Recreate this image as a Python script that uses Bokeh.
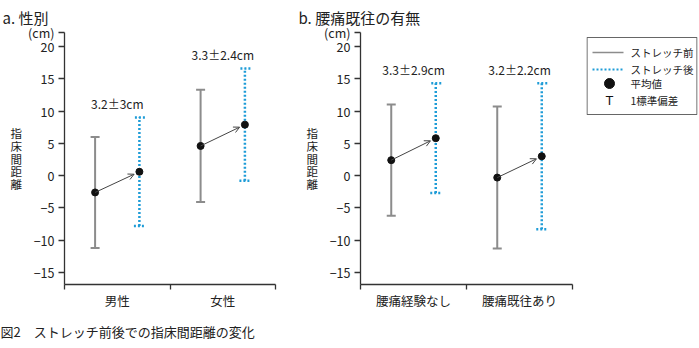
from bokeh.plotting import figure
from bokeh.models import (Range1d, FixedTicker, Whisker, TeeHead, Arrow, OpenHead, Title,
                          ColumnDataSource)
from bokeh.transform import dodge
from bokeh.layouts import row
from bokeh.core.properties import value
from bokeh.embed import file_html
from bokeh.resources import INLINE

FONT = "Noto Sans CJK JP"

# ---------------- data ----------------
cats_a = ["男性", "女性"]
before_mean_a = [-2.6, 4.6]
before_sd_a = [8.6, 8.7]
after_mean_a = [0.6, 7.9]
after_sd_a = [8.4, 8.7]
change_a = ["3.2±3cm", "3.3±2.4cm"]

cats_b = ["腰痛経験なし", "腰痛既往あり"]
before_mean_b = [2.4, -0.3]
before_sd_b = [8.6, 11.0]
after_mean_b = [5.8, 3.0]
after_sd_b = [8.5, 11.3]
change_b = ["3.3±2.9cm", "3.2±2.2cm"]

y_ticks = [-15, -10, -5, 0, 5, 10, 15, 20]
y_tick_labels = ["−15", "−10", "−5", "0", "5", "10", "15", "20"]
legend_labels = ["ストレッチ前", "ストレッチ後", "平均値", "1標準偏差"]
title_a = "a. 性別"
title_b = "b. 腰痛既往の有無"
y_label = "指床間距離"
unit_label = "(cm)"
caption = "図2　ストレッチ前後での指床間距離の変化"

# ---------------- style ----------------
GRAY = "#8c8c8c"
BLUE = "#1e9cd7"
AXIS = "#333333"
TXT = "#222222"
Y0, Y1 = -16.86, 22.17
FT, FH = 32, 252
FB = 348 - FT - FH
OFF = 0.21


def make_panel(cats, bm, bs, am, asd, chg, title, width, left, right, caption_on):
    n = len(cats)
    frac = (OFF - 0.05 + OFF) / (2 * OFF)
    centres = [i + 0.5 for i in range(n)]
    src = ColumnDataSource(dict(
        xc=centres, bm=bm, blo=[m - s for m, s in zip(bm, bs)], bhi=[m + s for m, s in zip(bm, bs)],
        am=am, alo=[m - s for m, s in zip(am, asd)], ahi=[m + s for m, s in zip(am, asd)],
        ae=[b + (a - b) * frac for b, a in zip(bm, am)],
        chg=chg, ly=[m + s + 2.1 for m, s in zip(am, asd)],
    ))
    p = figure(x_range=Range1d(0, n), y_range=Range1d(Y0, Y1),
               width=width, height=348, output_backend="svg", toolbar_location=None,
               min_border_left=left, min_border_right=right,
               min_border_top=FT, min_border_bottom=FB)
    p.outline_line_color = None
    p.grid.visible = False
    p.background_fill_color = "white"
    p.border_fill_color = "white"

    # panel title
    p.title.text = title[1]
    p.title.align = "left"
    p.title.offset = title[0] - left
    p.title.standoff = 9
    p.title.text_font = FONT
    p.title.text_font_size = "15px"
    p.title.text_font_style = "normal"
    p.title.text_color = TXT

    # y axis (the unit label sits at the top end of the axis)
    ya = p.yaxis[0]
    top = p.y_range.end
    ya.ticker = FixedTicker(ticks=y_ticks + [top])
    overrides = {t: l for t, l in zip(y_ticks, y_tick_labels)}
    overrides[top] = unit_label
    ya.major_label_overrides = overrides
    ya.major_tick_in = 0
    ya.major_tick_out = 6
    ya.minor_tick_line_color = None
    ya.axis_line_color = AXIS
    ya.axis_line_width = 1.3
    ya.major_tick_line_color = AXIS
    ya.major_tick_line_width = 1.3
    ya.major_label_text_font = FONT
    ya.major_label_text_font_size = "12.5px"
    ya.major_label_text_color = TXT
    ya.major_label_standoff = 4
    ya.axis_label = "\n".join(y_label)
    ya.axis_label_orientation = "horizontal"
    ya.axis_label_standoff = 3
    ya.axis_label_text_font = FONT
    ya.axis_label_text_font_size = "11.5px"
    ya.axis_label_text_font_style = "normal"
    ya.axis_label_text_color = TXT
    ya.axis_label_text_line_height = 0.8

    # x axis: ticks at category boundaries, category labels at centres
    xa = p.xaxis[0]
    xa.ticker = FixedTicker(ticks=centres, minor_ticks=list(range(n + 1)))
    xa.major_label_overrides = {c: lab for c, lab in zip(centres, cats)}
    xa.major_tick_line_color = None
    xa.major_tick_out = 0
    xa.major_tick_in = 0
    xa.minor_tick_in = 0
    xa.minor_tick_out = 5
    xa.minor_tick_line_color = AXIS
    xa.minor_tick_line_width = 1.3
    xa.axis_line_color = AXIS
    xa.axis_line_width = 1.3
    xa.major_label_standoff = 1
    xa.major_label_text_font = FONT
    xa.major_label_text_font_size = "12.5px"
    xa.major_label_text_color = TXT

    if caption_on:
        p.add_layout(Title(text=caption, align="left", offset=-left, standoff=15,
                           text_font=FONT, text_font_size="13px", text_font_style="normal",
                           text_color=TXT), "below")

    xb = dodge("xc", -OFF)
    xaft = dodge("xc", OFF)

    # before (solid gray)
    p.add_layout(Whisker(base=xb, lower="blo", upper="bhi", source=src, dimension="height",
                         line_color=GRAY, line_width=2,
                         upper_head=TeeHead(size=9, line_color=GRAY, line_width=2),
                         lower_head=TeeHead(size=9, line_color=GRAY, line_width=2)))
    # after (dotted blue)
    p.add_layout(Whisker(base=xaft, lower="alo", upper="ahi", source=src, dimension="height",
                         line_color=BLUE, line_width=2.5, line_dash="2 2",
                         upper_head=TeeHead(size=11, line_color=BLUE, line_width=2.5, line_dash="2 2"),
                         lower_head=TeeHead(size=11, line_color=BLUE, line_width=2.5, line_dash="2 2")))
    # arrow
    p.add_layout(Arrow(x_start=xb, y_start="bm", x_end=dodge("xc", OFF - 0.05),
                       y_end="ae", source=src, line_color="#444444", line_width=1,
                       end=OpenHead(size=6, line_color="#444444", line_width=1)))
    # means
    p.scatter(x=xb, y="bm", source=src, size=7, color="#111111")
    p.scatter(x=xaft, y="am", source=src, size=7, color="#111111")
    # change labels
    p.text(x="xc", y="ly", text="chg", source=src, text_align="center", text_baseline="middle",
           text_font=value(FONT), text_font_size="12px", text_color=TXT)
    return p


fig_a = make_panel(cats_a, before_mean_a, before_sd_a, after_mean_a, after_sd_a, change_a,
                   (2, title_a), 290, 64, 15, True)
fig_b = make_panel(cats_b, before_mean_b, before_sd_b, after_mean_b, after_sd_b, change_b,
                   (8, title_b), 295, 70, 13, False)

# ---------------- legend panel (pixel-like coordinates, y downward) ----------------
fig_l = figure(x_range=Range1d(0, 111), y_range=Range1d(FH, 0), width=114, height=348,
               output_backend="svg", toolbar_location=None,
               x_axis_location=None, y_axis_location=None,
               min_border_left=1, min_border_right=2, min_border_top=FT, min_border_bottom=FB)
fig_l.grid.visible = False
fig_l.outline_line_color = None
fig_l.quad(left=[0.5], right=[110.5], top=[5], bottom=[82], fill_color=None,
           line_color="#666666", line_width=1.2)
ys = [20, 37, 51, 68]
fig_l.line([6, 37], [ys[0], ys[0]], line_color=GRAY, line_width=1.5)
fig_l.line([6, 37], [ys[1], ys[1]], line_color=BLUE, line_width=2, line_dash="2 2")
fig_l.scatter([23], [ys[2]], size=10, color="#111111")
fig_l.text([23], [ys[3]], text=["T"], text_align="center", text_baseline="middle",
           text_font=value("Liberation Sans"), text_font_size="13px", text_color="#111111")
fig_l.text([44] * 4, ys, text=legend_labels, text_align="left", text_baseline="middle",
           text_font=value(FONT), text_font_size="10.5px", text_color=TXT)

layout = row(fig_a, fig_b, fig_l)
open("out.html", "w").write(file_html(layout, INLINE))
